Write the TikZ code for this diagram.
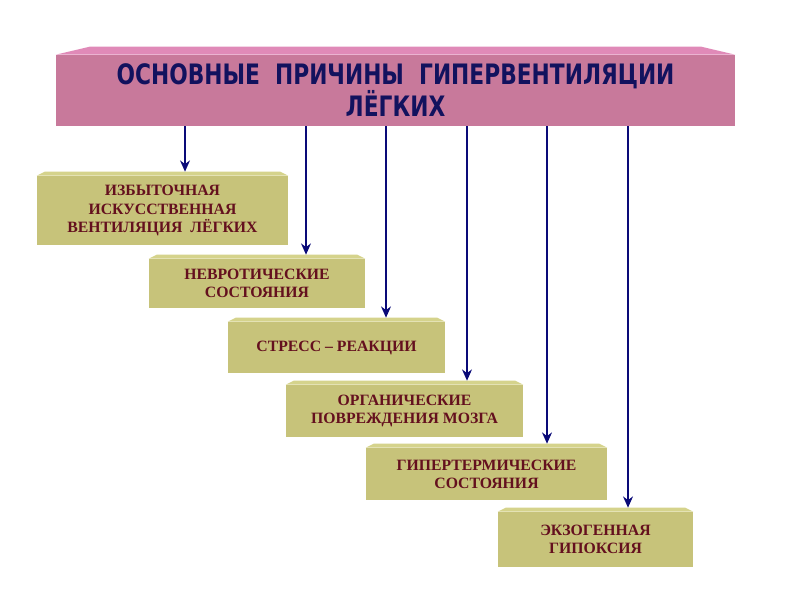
\documentclass[tikz,border=0pt]{standalone}
\usepackage{fontspec}
\setmainfont{Liberation Serif}
\newfontfamily\titlefont[FakeStretch=0.86]{DejaVu Sans Condensed}
\definecolor{titlePink}{RGB}{200,121,155}
\definecolor{titleTop}{RGB}{224,138,184}
\definecolor{titleInk}{RGB}{18,18,94}
\definecolor{causeOlive}{RGB}{199,195,122}
\definecolor{causeTop}{RGB}{213,211,140}
\definecolor{causeInk}{RGB}{100,16,30}
\definecolor{arrowNavy}{RGB}{10,10,120}
\usetikzlibrary{arrows.meta,positioning}

% top face of a bevelled box: node, inset, depth, colour
\newcommand{\topface}[4]{%
  \fill[#4] (#1.north west) -- ([shift={(#2,#3)}]#1.north west)
    -- ([shift={(-#2,#3)}]#1.north east) -- (#1.north east) -- cycle;}

\begin{document}
\begin{tikzpicture}[x=0.025cm, y=-0.025cm,
  titlebox/.style={fill=titlePink, minimum width=16.975cm, minimum height=1.775cm,
    align=center, text=titleInk, font=\titlefont\bfseries\fontsize{20}{21}\selectfont},
  causebox/.style={fill=causeOlive, align=center, text=causeInk,
    font=\bfseries\fontsize{11.2}{13}\selectfont},
  arw/.style={-{Stealth[length=8pt,width=7pt]}, arrowNavy, line width=2pt}]
  \useasboundingbox (0,0) rectangle (800,600);

  \node[titlebox] (title) at (395.5,90.5)
    {ОСНОВНЫЕ\ \ ПРИЧИНЫ\ \ ГИПЕРВЕНТИЛЯЦИИ\\ЛЁГКИХ};
  \topface{title}{0.85cm}{0.2cm}{titleTop}

  \node[causebox, minimum width=6.275cm, minimum height=1.725cm]
    (c1) at (162.5,210.5) {ИЗБЫТОЧНАЯ\\ИСКУССТВЕННАЯ\\ВЕНТИЛЯЦИЯ\ \ ЛЁГКИХ};
  \topface{c1}{0.2cm}{0.1cm}{causeTop}

  \node[causebox, minimum width=5.4cm, minimum height=1.225cm]
    (c2) at (257,283.5) {НЕВРОТИЧЕСКИЕ\\СОСТОЯНИЯ};
  \topface{c2}{0.2cm}{0.1cm}{causeTop}

  \node[causebox, minimum width=5.425cm, minimum height=1.275cm]
    (c3) at (336.5,347.5) {СТРЕСС – РЕАКЦИИ};
  \topface{c3}{0.2cm}{0.1cm}{causeTop}

  \node[causebox, minimum width=5.925cm, minimum height=1.3cm]
    (c4) at (404.5,411) {ОРГАНИЧЕСКИЕ\\ПОВРЕЖДЕНИЯ МОЗГА};
  \topface{c4}{0.2cm}{0.1cm}{causeTop}

  \node[causebox, minimum width=6.025cm, minimum height=1.3cm]
    (c5) at (486.5,474) {ГИПЕРТЕРМИЧЕСКИЕ\\СОСТОЯНИЯ};
  \topface{c5}{0.2cm}{0.1cm}{causeTop}

  \node[causebox, minimum width=4.875cm, minimum height=1.375cm]
    (c6) at (595.5,539.5) {ЭКЗОГЕННАЯ\\ГИПОКСИЯ};
  \topface{c6}{0.2cm}{0.1cm}{causeTop}

  \coordinate (x1) at (185,0);
  \coordinate (x2) at (306,0);
  \coordinate (x3) at (386,0);
  \coordinate (x4) at (467,0);
  \coordinate (x5) at (547,0);
  \coordinate (x6) at (628,0);

  \draw[arw] (title.south -| x1) -- ([yshift=0.1cm]c1.north -| x1);
  \draw[arw] (title.south -| x2) -- ([yshift=0.1cm]c2.north -| x2);
  \draw[arw] (title.south -| x3) -- ([yshift=0.1cm]c3.north -| x3);
  \draw[arw] (title.south -| x4) -- ([yshift=0.1cm]c4.north -| x4);
  \draw[arw] (title.south -| x5) -- ([yshift=0.1cm]c5.north -| x5);
  \draw[arw] (title.south -| x6) -- ([yshift=0.1cm]c6.north -| x6);
\end{tikzpicture}
\end{document}
